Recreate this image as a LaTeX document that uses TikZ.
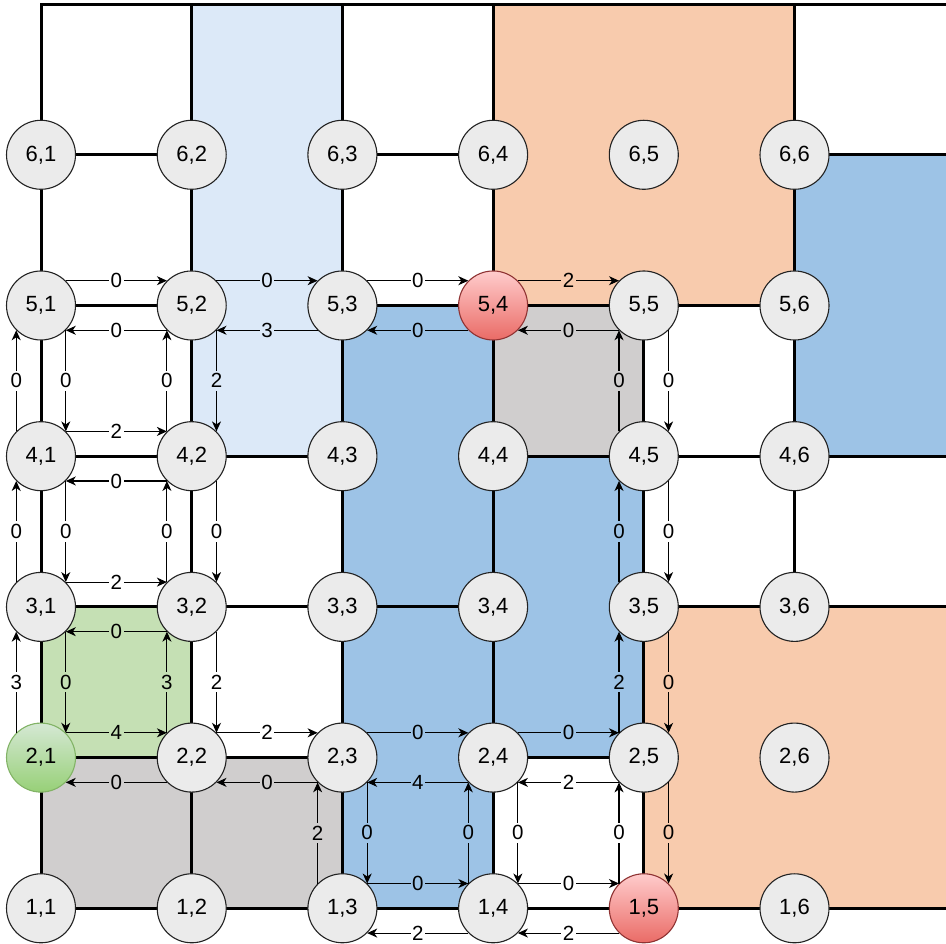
\documentclass[tikz,border=0pt]{standalone}
\usepackage{fontspec}
\setmainfont{Liberation Sans}
\usetikzlibrary{arrows.meta}
\definecolor{cW}{HTML}{FFFFFF}
\definecolor{cLB}{HTML}{DCE9F8}
\definecolor{cB}{HTML}{9DC3E6}
\definecolor{cO}{HTML}{F8CBAD}
\definecolor{cG}{HTML}{D0CECE}
\definecolor{cGr}{HTML}{C5E0B4}
\definecolor{nodefill}{HTML}{EBEBEB}
\definecolor{nodeline}{HTML}{222222}
\begin{document}
\begin{tikzpicture}[x=150.7pt,y=150.7pt,
  cell/.style={draw=black,line width=3pt},
  vtx/.style={circle,draw=nodeline,line width=1.1pt,fill=nodefill,minimum size=69pt,inner sep=0pt,font=\fontsize{22}{26}\selectfont},
  redvtx/.style={vtx,draw=red!45!black!80,top color=red!20!white,bottom color={rgb,255:red,234;green,107;blue,102}},
  greenvtx/.style={vtx,draw={rgb,255:red,130;green,179;blue,102},top color={rgb,255:red,213;green,232;blue,212},bottom color={rgb,255:red,151;green,208;blue,119}},
  arr/.style={-{Stealth[length=10pt,width=9pt,inset=3pt]},line width=1.1pt,draw=black},
  lbl/.style={font=\fontsize{20.5}{24}\selectfont,inner xsep=1.5pt,inner ysep=3pt}
]
\clip (0.7279,0.7631) rectangle (7.0053,7.0272);
\def\R{7.05}
% cells
\filldraw[cell,fill=cW]  (1,6) rectangle (2,7);
\filldraw[cell,fill=cLB] (2,4) rectangle (3,7);
\filldraw[cell,fill=cW]  (3,6) rectangle (4,7);
\filldraw[cell,fill=cO]  (4,5) rectangle (6,7);
\filldraw[cell,fill=cW]  (6,6) rectangle (\R,7);
\filldraw[cell,fill=cW]  (1,5) rectangle (2,6);
\filldraw[cell,fill=cW]  (3,5) rectangle (4,6);
\filldraw[cell,fill=cB]  (6,4) rectangle (\R,6);
\filldraw[cell,fill=cW]  (1,4) rectangle (2,5);
\filldraw[cell,fill=cB]  (3,3) rectangle (4,5);
\filldraw[cell,fill=cG]  (4,4) rectangle (5,5);
\filldraw[cell,fill=cW]  (5,4) rectangle (6,5);
\filldraw[cell,fill=cW]  (1,3) rectangle (2,4);
\filldraw[cell,fill=cW]  (2,3) rectangle (3,4);
\filldraw[cell,fill=cB]  (4,2) rectangle (5,4);
\filldraw[cell,fill=cW]  (5,3) rectangle (6,4);
\filldraw[cell,fill=cW]  (6,3) rectangle (\R,4);
\filldraw[cell,fill=cGr] (1,2) rectangle (2,3);
\filldraw[cell,fill=cW]  (2,2) rectangle (3,3);
\filldraw[cell,fill=cB]  (3,1) rectangle (4,3);
\filldraw[cell,fill=cO]  (5,1) rectangle (\R,3);
\filldraw[cell,fill=cG]  (1,1) rectangle (2,2);
\filldraw[cell,fill=cG]  (2,1) rectangle (3,2);
\filldraw[cell,fill=cW]  (4,1) rectangle (5,2);
% nodes
\foreach \r in {1,...,6}{\foreach \c in {1,...,6}{
  \def\s{vtx}
  \ifnum\r\c=54 \def\s{redvtx}\fi
  \ifnum\r\c=15 \def\s{redvtx}\fi
  \ifnum\r\c=21 \def\s{greenvtx}\fi
  \node[\s] (n\r\c) at (\c,\r) {\r,\c};
}}
% row 5 horizontal
\draw[arr] (n51.45) -- node[lbl,fill=cW]{0} (n52.135);
\draw[arr] (n52.225) -- node[lbl,fill=cW]{0} (n51.315);
\draw[arr] (n52.45) -- node[lbl,fill=cLB]{0} (n53.135);
\draw[arr] (n53.225) -- node[lbl,fill=cLB]{3} (n52.315);
\draw[arr] (n53.45) -- node[lbl,fill=cW]{0} (n54.135);
\draw[arr] (n54.225) -- node[lbl,fill=cB]{0} (n53.315);
\draw[arr] (n54.45) -- node[lbl,fill=cO]{2} (n55.135);
\draw[arr] (n55.225) -- node[lbl,fill=cG]{0} (n54.315);
% vertical 5-4
\draw[arr] (n41.135) -- node[lbl,fill=cW]{0} (n51.225);
\draw[arr] (n51.315) -- node[lbl,fill=cW]{0} (n41.45);
\draw[arr] (n42.135) -- node[lbl,fill=cW]{0} (n52.225);
\draw[arr] (n52.315) -- node[lbl,fill=cLB]{2} (n42.45);
\draw[arr] (n45.135) -- node[lbl,fill=cG]{0} (n55.225);
\draw[arr] (n55.315) -- node[lbl,fill=cW]{0} (n45.45);
% row 4 horizontal
\draw[arr] (n41.45) -- node[lbl,fill=cW]{2} (n42.135);
\draw[arr] (n42.225) -- node[lbl,fill=cW]{0} (n41.315);
% vertical 4-3
\draw[arr] (n31.135) -- node[lbl,fill=cW]{0} (n41.225);
\draw[arr] (n41.315) -- node[lbl,fill=cW]{0} (n31.45);
\draw[arr] (n32.135) -- node[lbl,fill=cW]{0} (n42.225);
\draw[arr] (n42.315) -- node[lbl,fill=cW]{0} (n32.45);
\draw[arr] (n35.135) -- node[lbl,fill=cB]{0} (n45.225);
\draw[arr] (n45.315) -- node[lbl,fill=cW]{0} (n35.45);
% row 3 horizontal
\draw[arr] (n31.45) -- node[lbl,fill=cW]{2} (n32.135);
\draw[arr] (n32.225) -- node[lbl,fill=cGr]{0} (n31.315);
% vertical 3-2
\draw[arr] (n21.135) -- node[lbl,fill=cW]{3} (n31.225);
\draw[arr] (n31.315) -- node[lbl,fill=cGr]{0} (n21.45);
\draw[arr] (n22.135) -- node[lbl,fill=cGr]{3} (n32.225);
\draw[arr] (n32.315) -- node[lbl,fill=cW]{2} (n22.45);
\draw[arr] (n25.135) -- node[lbl,fill=cB]{2} (n35.225);
\draw[arr] (n35.315) -- node[lbl,fill=cO]{0} (n25.45);
% row 2 horizontal
\draw[arr] (n21.45) -- node[lbl,fill=cGr]{4} (n22.135);
\draw[arr] (n22.225) -- node[lbl,fill=cG]{0} (n21.315);
\draw[arr] (n22.45) -- node[lbl,fill=cW]{2} (n23.135);
\draw[arr] (n23.225) -- node[lbl,fill=cG]{0} (n22.315);
\draw[arr] (n23.45) -- node[lbl,fill=cB]{0} (n24.135);
\draw[arr] (n24.225) -- node[lbl,fill=cB]{4} (n23.315);
\draw[arr] (n24.45) -- node[lbl,fill=cB]{0} (n25.135);
\draw[arr] (n25.225) -- node[lbl,fill=cW]{2} (n24.315);
% vertical 2-1
\draw[arr] (n13.135) -- node[lbl,fill=cG]{2} (n23.225);
\draw[arr] (n23.315) -- node[lbl,fill=cB]{0} (n13.45);
\draw[arr] (n14.135) -- node[lbl,fill=cB]{0} (n24.225);
\draw[arr] (n24.315) -- node[lbl,fill=cW]{0} (n14.45);
\draw[arr] (n15.135) -- node[lbl,fill=cW]{0} (n25.225);
\draw[arr] (n25.315) -- node[lbl,fill=cO]{0} (n15.45);
% row 1 horizontal
\draw[arr] (n13.45) -- node[lbl,fill=cB]{0} (n14.135);
\draw[arr] (n14.225) -- node[lbl,fill=cW]{2} (n13.315);
\draw[arr] (n14.45) -- node[lbl,fill=cW]{0} (n15.135);
\draw[arr] (n15.225) -- node[lbl,fill=cW]{2} (n14.315);
\end{tikzpicture}
\end{document}
